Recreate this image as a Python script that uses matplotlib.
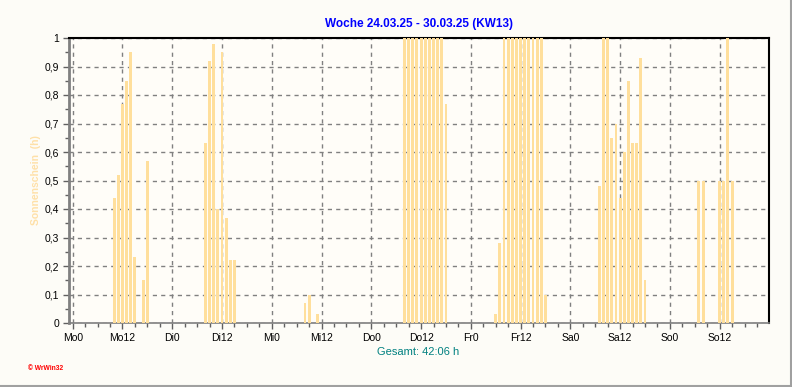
import matplotlib
matplotlib.use("Agg")
import matplotlib.pyplot as plt
from matplotlib.lines import Line2D
from matplotlib.ticker import MultipleLocator, FixedLocator
import numpy as np

plt.rcParams['font.family'] = ['Liberation Sans', 'DejaVu Sans']

# Hourly sunshine (h) for the week, hour index 0..167 (Mo0 .. So23)
sun_hours = {
    10: 0.44, 11: 0.52, 12: 0.77, 13: 0.85, 14: 0.95, 15: 0.23, 17: 0.15, 18: 0.57,
    32: 0.63, 33: 0.92, 34: 0.98, 35: 0.40, 36: 0.95, 37: 0.37, 38: 0.22, 39: 0.22,
    56: 0.07, 57: 0.10, 59: 0.03,
    80: 1.0, 81: 1.0, 82: 1.0, 83: 1.0, 84: 1.0, 85: 1.0, 86: 1.0, 87: 1.0, 88: 1.0, 89: 1.0, 90: 0.77,
    102: 0.03, 103: 0.28,
    104: 1.0, 105: 1.0, 106: 1.0, 107: 1.0, 108: 1.0, 109: 1.0, 110: 1.0, 111: 1.0, 112: 1.0, 113: 1.0,
    114: 0.10,
    127: 0.48, 128: 1.0, 129: 1.0, 130: 0.65, 131: 0.70, 132: 0.44, 133: 0.60, 134: 0.85,
    135: 0.63, 136: 0.63, 137: 0.93, 138: 0.15,
    151: 0.50, 152: 0.50, 156: 0.50, 157: 0.50, 158: 1.0, 159: 0.50,
}
hours = np.arange(168)
values = np.array([sun_hours.get(h, 0.0) for h in hours])

tick_pos = list(range(0, 168, 12))
tick_labels = ["Mo0", "Mo12", "Di0", "Di12", "Mi0", "Mi12", "Do0", "Do12",
               "Fr0", "Fr12", "Sa0", "Sa12", "So0", "So12"]
y_ticks = [0, 0.1, 0.2, 0.3, 0.4, 0.5, 0.6, 0.7, 0.8, 0.9, 1]
y_labels = ["0", "0,1", "0,2", "0,3", "0,4", "0,5", "0,6", "0,7", "0,8", "0,9", "1"]

title = "Woche 24.03.25 - 30.03.25 (KW13)"
total_text = "Gesamt: 42:06 h"
ylabel = "Sonnenschein  (h)"

bg = "#FDFCF7"
bar_color = "#FFDF9C"

fig = plt.figure(figsize=(7.92, 3.87), dpi=100, facecolor=bg)
ax = fig.add_axes([69/792, 1-323/387, (769-69)/792, (323-38)/387])
ax.set_facecolor("#FFFDF8")

ax.bar(hours, values, width=0.7, color=bar_color, linewidth=0,
       antialiased=False, zorder=3)

ax.set_xlim(-0.9, 167.9)
ax.set_ylim(0, 1)

ax.xaxis.set_major_locator(FixedLocator(tick_pos))
ax.set_xticklabels(tick_labels)
ax.xaxis.set_minor_locator(MultipleLocator(3))
ax.set_yticks(y_ticks)
ax.set_yticklabels(y_labels)
ax.yaxis.set_minor_locator(MultipleLocator(0.05))

ax.tick_params(axis='both', which='major', labelsize=7.5, length=4, width=1, color="#606060",
               direction='out', labelcolor='black')
ax.tick_params(axis='both', which='minor', length=3, width=1, color="#606060", direction='out')
ax.tick_params(axis='x', which='major', pad=3)
ax.tick_params(axis='y', which='major', pad=3)

ax.grid(True, which='major', color="#808080", linestyle=(0, (3, 3)), linewidth=1, zorder=1)
ax.set_axisbelow(True)

for side in ('left', 'bottom'):
    ax.spines[side].set_color("#808080")
ax.spines['left'].set_linewidth(2)
ax.spines['bottom'].set_linewidth(1.2)
for side in ('top', 'right'):
    ax.spines[side].set_color("black")
    ax.spines[side].set_linewidth(1.5)

ax.set_title(title, color="#0000FF", fontsize=8.5, fontweight='bold', pad=8)
ax.set_ylabel(ylabel, color="#FFE0A8", fontsize=7.5, fontweight='bold', labelpad=3)

fig.text(418/792, 1-352/387, total_text, color="#008080", fontsize=8, ha='center', va='center')
fig.text(28/792, 1-369/387, "\u00a9 WrWin32", color="#FF0000", fontsize=4.8, ha='left', va='center',
         fontweight='bold')

fig.add_artist(Line2D([0, 790.5/792], [1.5/387, 1.5/387], color="#A0A0A0", linewidth=1.5,
                      transform=fig.transFigure))
fig.add_artist(Line2D([790.5/792, 790.5/792], [0, 1], color="#A0A0A0", linewidth=1.5,
                      transform=fig.transFigure))

fig.savefig("out.png", dpi=100, facecolor=bg)
